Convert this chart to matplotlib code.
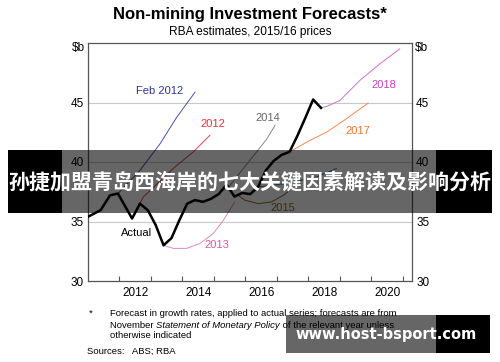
import numpy as np
import matplotlib
matplotlib.use('Agg')
import matplotlib.pyplot as plt
from matplotlib.patches import Rectangle

plt.rcParams['font.family'] = ['Liberation Sans', 'DejaVu Sans']

# ---- data ($b, 2015/16 prices) ----
actual_x = [2011.00, 2011.40, 2011.70, 2011.95, 2012.40, 2012.65, 2012.90, 2013.15,
            2013.40, 2013.65, 2013.90, 2014.15, 2014.40, 2014.65, 2014.90, 2015.15,
            2015.40, 2015.65, 2015.90, 2016.15, 2016.40, 2016.65, 2016.90, 2017.15,
            2017.40, 2017.65, 2017.90, 2018.15, 2018.40]
actual_y = [35.4, 35.95, 37.2, 37.35, 35.25, 36.5, 35.95, 34.7,
            33.0, 33.6, 35.1, 36.5, 36.8, 36.65, 36.9, 37.3,
            38.1, 37.1, 37.4, 37.3, 37.9, 39.3, 40.1, 40.6,
            40.85, 42.2, 43.7, 45.25, 44.55]

feb2012_x = [2011.95, 2012.65, 2013.29, 2013.82, 2014.40]
feb2012_y = [37.35, 39.3, 41.54, 43.77, 45.87]

f2012_x = [2012.65, 2012.76, 2013.76, 2014.34, 2014.87]
f2012_y = [36.5, 37.07, 39.58, 40.84, 42.24]

f2013_x = [2013.40, 2013.71, 2014.13, 2014.56, 2014.98, 2015.30, 2015.65]
f2013_y = [33.0, 32.74, 32.74, 33.16, 34.0, 35.11, 36.6]

f2014_x = [2014.90, 2015.50, 2016.14, 2016.67, 2016.94]
f2014_y = [36.9, 38.0, 40.14, 41.9, 43.08]

f2015_x = [2015.65, 2015.77, 2015.98, 2016.41, 2016.83, 2017.20, 2017.40]
f2015_y = [37.1, 37.2, 36.79, 36.5, 36.65, 37.2, 37.6]

f2016_x = [2016.40, 2017.30, 2018.26, 2018.89]
f2016_y = [37.9, 38.2, 38.74, 39.44]

f2017_x = [2017.40, 2018.05, 2018.58, 2019.21, 2019.90]
f2017_y = [40.85, 41.82, 42.51, 43.64, 44.95]

f2018_x = [2018.40, 2018.58, 2019.00, 2019.63, 2020.27, 2020.90]
f2018_y = [44.55, 44.67, 45.17, 46.85, 48.25, 49.5]

year_ticks = list(range(2012, 2022))
year_labels = ['2012', '2014', '2016', '2018', '2020']
y_ticks = [30, 35, 40, 45]

# ---- figure ----
fig = plt.figure(figsize=(5.0, 3.62), dpi=100)
ax = fig.add_axes([88 / 500, 1 - 281 / 362, 324 / 500, 238 / 362])

ax.set_xlim(2011.0, 2021.29)
ax.set_ylim(30, 50)

for yv in [35, 40, 45]:
    ax.axhline(yv, color='#c8c8c8', lw=0.8, zorder=0)

ax.plot(feb2012_x, feb2012_y, color='#4a4fa8', lw=0.7)
ax.plot(f2012_x, f2012_y, color='#e8424c', lw=0.7)
ax.plot(f2013_x, f2013_y, color='#e58ab5', lw=0.7)
ax.plot(f2014_x, f2014_y, color='#888888', lw=0.7)
ax.plot(f2015_x, f2015_y, color='#8a6d2f', lw=0.7)
ax.plot(f2016_x, f2016_y, color='#2f7f9f', lw=0.7)
ax.plot(f2017_x, f2017_y, color='#f38a50', lw=0.7)
ax.plot(f2018_x, f2018_y, color='#d070d0', lw=0.7)
ax.plot(actual_x, actual_y, color='black', lw=1.8, zorder=5)

lab = dict(fontsize=8, ha='center', va='center')
ax.text(2013.26, 45.99, 'Feb 2012', color='#2e3192', **lab)
ax.text(2014.98, 43.16, '2012', color='#e8323c', **lab)
ax.text(2016.72, 43.69, '2014', color='#666666', **lab)
ax.text(2020.41, 46.49, '2018', color='#c040c0', **lab)
ax.text(2019.58, 42.60, '2017', color='#f07030', **lab)
ax.text(2017.20, 36.10, '2015', color='#8a6d2f', **lab)
ax.text(2015.09, 33.02, '2013', color='#d9569b', **lab)
ax.text(2012.55, 34.05, 'Actual', color='black', **lab)

# axes styling
for s in ax.spines.values():
    s.set_color('#555555')
    s.set_linewidth(0.9)

ax.set_xticks(year_ticks)
ax.set_xticklabels([])
ax.tick_params(axis='x', which='major', direction='in', length=3.5, color='#555555')
ax.set_xticks([int(l) + 0.5 for l in year_labels], minor=True)
ax.set_xticklabels(year_labels, minor=True, fontsize=8.5)
ax.tick_params(axis='x', which='minor', length=0, pad=4)

ax.set_yticks(y_ticks)
ax.set_yticklabels([str(v) for v in y_ticks], fontsize=8.5)
ax.tick_params(axis='y', length=0, pad=3, labelleft=True, labelright=True)

ax.text(-0.01, 0.98, r'\$b', transform=ax.transAxes, ha='right', va='center', fontsize=8.5)
ax.text(1.008, 0.98, r'\$b', transform=ax.transAxes, ha='left', va='center', fontsize=8.5)

# titles
fig.text(0.5, 1 - 14 / 362, 'Non-mining Investment Forecasts*', ha='center', va='center',
         fontsize=12, fontweight='bold')
fig.text(0.5, 1 - 32 / 362, 'RBA estimates, 2015/16 prices', ha='center', va='center',
         fontsize=8.6)

# footnotes
fn = dict(fontsize=6.8, va='center', ha='left')
fig.text(89 / 500, 1 - 313 / 362, '*', **fn)
fig.text(110 / 500, 1 - 313 / 362,
         'Forecast in growth rates, applied to actual series; forecasts are from', **fn)
renderer = fig.canvas.get_renderer()
t1 = fig.text(110 / 500, 1 - 325 / 362, 'November ', **fn)
x1 = t1.get_window_extent(renderer).x1 / fig.bbox.width
t2 = fig.text(x1, 1 - 325 / 362, 'Statement of Monetary Policy', style='italic', **fn)
x2 = t2.get_window_extent(renderer).x1 / fig.bbox.width
fig.text(x2, 1 - 325 / 362, ' of the relevant year unless', **fn)
fig.text(110 / 500, 1 - 336 / 362, 'otherwise indicated', **fn)
fig.text(87 / 500, 1 - 351 / 362, 'Sources:   ABS; RBA', **fn)

# overlay banners present in the picture
def box(x0, y0, x1, y1, alpha):
    fig.add_artist(Rectangle((x0 / 500, 1 - y1 / 362), (x1 - x0) / 500, (y1 - y0) / 362,
                             transform=fig.transFigure, color='black', alpha=alpha,
                             lw=0, zorder=20))

box(8, 150, 62, 213, 1.0)
box(62, 150, 436, 213, 0.6)
box(436, 150, 492, 213, 1.0)
fig.text(0.5, 1 - 182 / 362, '孙捷加盟青岛西海岸的七大关键因素解读及影响分析',
         ha='center', va='center', color='white', fontsize=15.1, fontweight='bold',
         family=['Noto Sans CJK SC', 'DejaVu Sans'], zorder=21)

box(286, 315, 436, 353, 0.6)
box(436, 315, 490, 353, 1.0)
fig.text(386 / 500, 1 - 334 / 362, 'www.host-bsport.com', ha='center', va='center',
         color='white', fontsize=10.5, fontweight='bold', family='DejaVu Sans', zorder=21)

fig.savefig('out.png', dpi=100)
